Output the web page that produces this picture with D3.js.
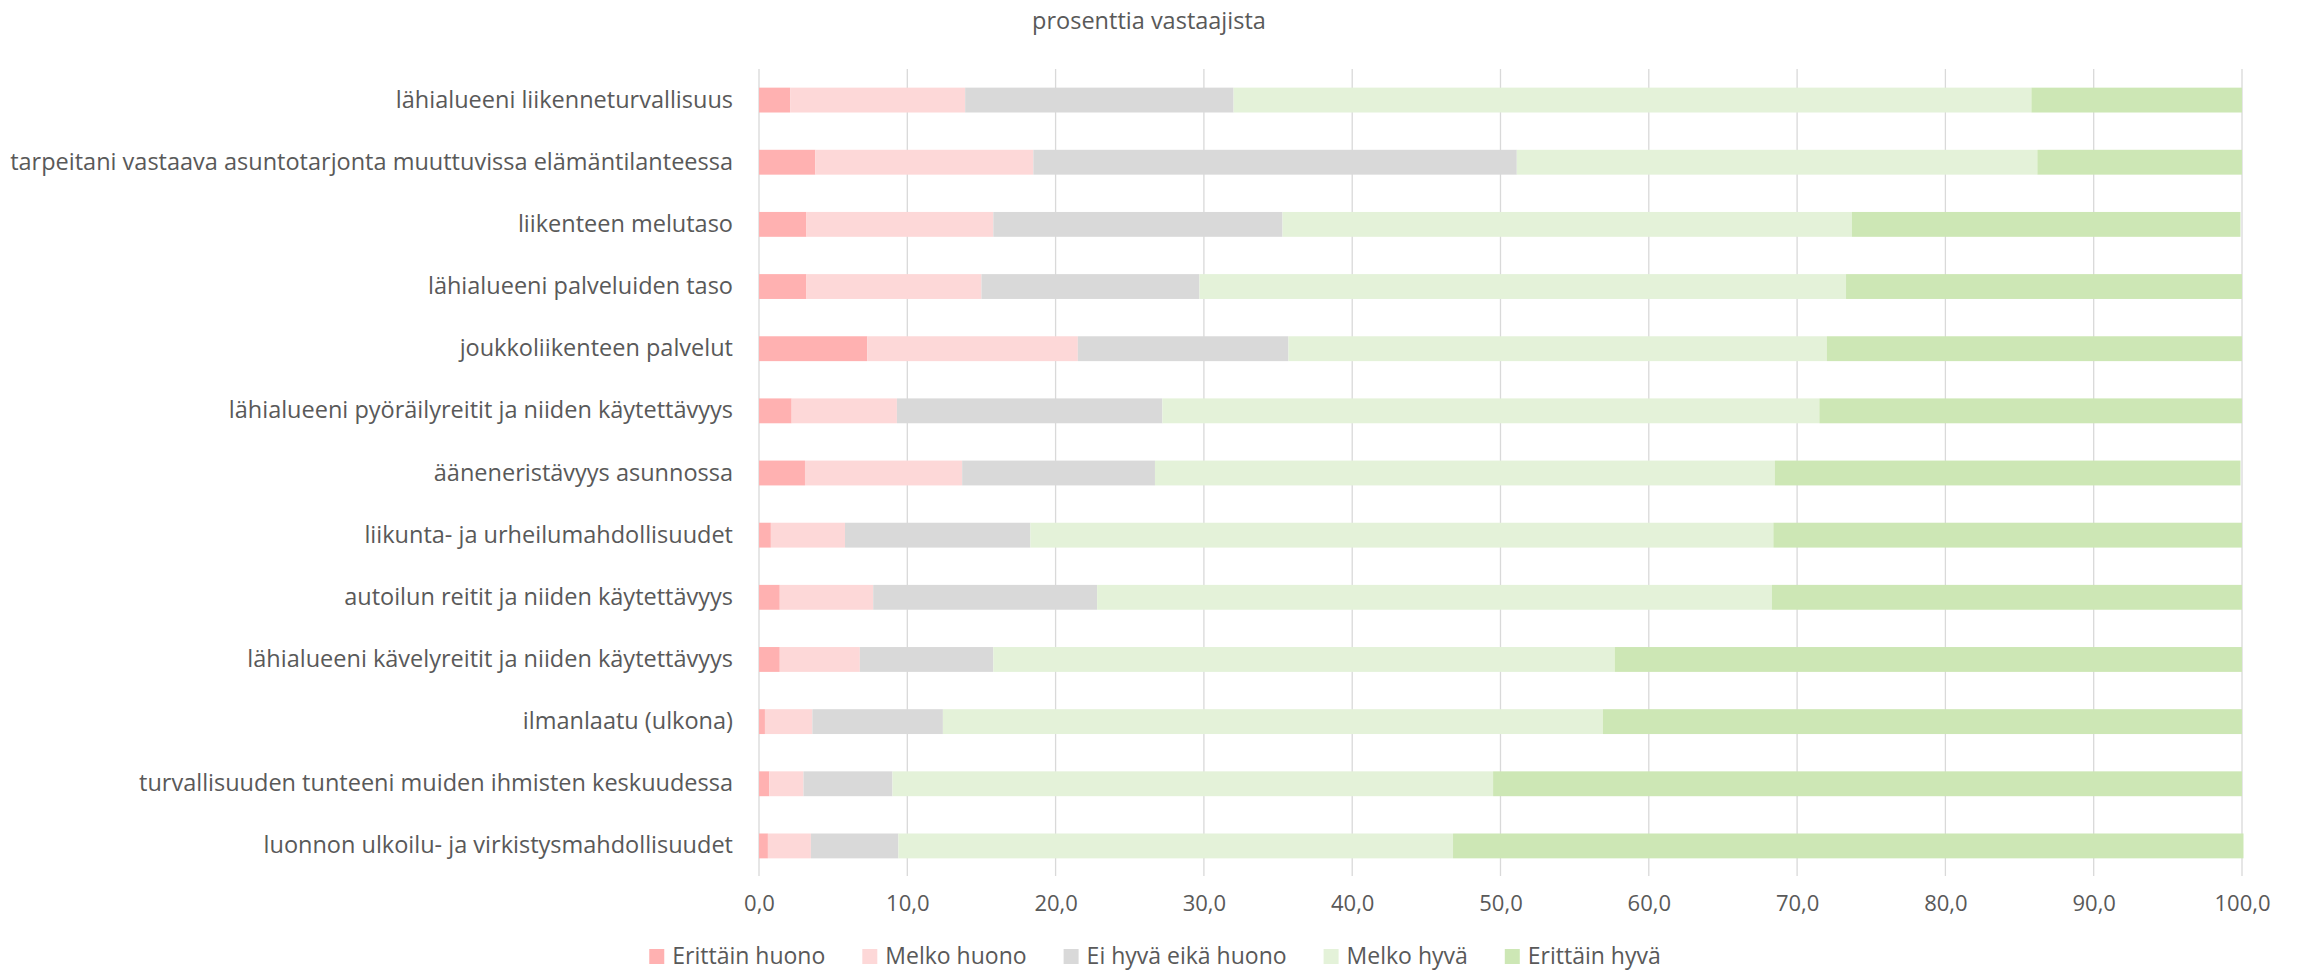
<!DOCTYPE html>
<html>
<head>
<meta charset="utf-8">
<script src="https://cdn.jsdelivr.net/npm/d3@7"></script>
<style>
  body { margin: 0; background: #fff; }
  svg text { font-family: "Open Sans", "Noto Sans", sans-serif; fill: #595959; }
</style>
</head>
<body>
<svg class="chart"></svg>
<script>
const width = 2298,
      height = 975

const categories = [
  "lähialueeni liikenneturvallisuus",
  "tarpeitani vastaava asuntotarjonta muuttuvissa elämäntilanteessa",
  "liikenteen melutaso",
  "lähialueeni palveluiden taso",
  "joukkoliikenteen palvelut",
  "lähialueeni pyöräilyreitit ja niiden käytettävyys",
  "ääneneristävyys asunnossa ",
  "liikunta- ja urheilumahdollisuudet",
  "autoilun reitit ja niiden käytettävyys",
  "lähialueeni kävelyreitit ja niiden käytettävyys",
  "ilmanlaatu (ulkona)",
  "turvallisuuden tunteeni muiden ihmisten keskuudessa",
  "luonnon ulkoilu- ja virkistysmahdollisuudet"
]

const seriesNames = ["Erittäin huono", "Melko huono", "Ei hyvä eikä huono", "Melko hyvä", "Erittäin hyvä"]
const seriesColors = ["#ffb1b1", "#fdd8d8", "#d9d9d9", "#e4f2d9", "#cde7b5"]

const erittainHuono = [2.1, 3.8, 3.2, 3.2, 7.3, 2.2, 3.1, 0.8, 1.4, 1.4, 0.4, 0.7, 0.6]
const melkoHuono    = [11.8, 14.7, 12.6, 11.8, 14.2, 7.1, 10.6, 5.0, 6.3, 5.4, 3.2, 2.3, 2.9]
const eiHyvaEika    = [18.1, 32.6, 19.5, 14.7, 14.2, 17.9, 13.0, 12.5, 15.1, 9.0, 8.8, 6.0, 5.9]
const melkoHyva     = [53.8, 35.1, 38.4, 43.6, 36.3, 44.3, 41.8, 50.1, 45.5, 41.9, 44.5, 40.5, 37.4]
const erittainHyva  = [14.2, 13.8, 26.2, 26.7, 28.0, 28.5, 31.4, 31.6, 31.7, 42.3, 43.1, 50.5, 53.3]

const xTicks = [0, 10, 20, 30, 40, 50, 60, 70, 80, 90, 100]

const rows = categories.map((c, i) => ({
  cat: c,
  "Erittäin huono": erittainHuono[i],
  "Melko huono": melkoHuono[i],
  "Ei hyvä eikä huono": eiHyvaEika[i],
  "Melko hyvä": melkoHyva[i],
  "Erittäin hyvä": erittainHyva[i]
}))

const stacked = d3.stack().keys(seriesNames)(rows)

const chart = d3.select(".chart")
    .attr("width", width)
    .attr("height", height)

const x = d3.scaleLinear().domain([0, 100]).range([759, 2242])
const y = d3.scaleBand().domain(categories).range([69, 877])
    .paddingInner(0.6)
    .paddingOuter(0.3)

// title
chart.append("text")
    .attr("x", width / 2)
    .attr("y", 21)
    .attr("dy", "0.35em")
    .attr("text-anchor", "middle")
    .style("font-size", "23.5px")
    .text("prosenttia vastaajista")

// gridlines
chart.append("g")
    .selectAll("line")
    .data(xTicks)
    .enter()
    .append("line")
      .attr("x1", d => x(d))
      .attr("x2", d => x(d))
      .attr("y1", 69)
      .attr("y2", 876)
      .style("stroke", "#d9d9d9")
      .style("stroke-width", 1.3)

// bars
chart.append("g")
  .selectAll("g")
  .data(stacked)
  .enter()
  .append("g")
    .style("fill", (d, i) => seriesColors[i])
  .selectAll("rect")
  .data(d => d)
  .enter()
  .append("rect")
    .attr("x", d => x(d[0]))
    .attr("y", d => y(d.data.cat))
    .attr("width", d => x(d[1]) - x(d[0]))
    .attr("height", y.bandwidth())

// x axis labels
const xAxis = chart.append("g")
    .attr("transform", "translate(0,903)")
    .call(d3.axisBottom(x).tickValues(xTicks).tickSize(0).tickPadding(0)
      .tickFormat(d => d3.format(".1f")(d).replace(".", ",")))
xAxis.select(".domain").remove()
xAxis.selectAll("text")
    .attr("y", 0)
    .attr("dy", "0.35em")
    .style("font-size", "22px")
    .style("fill", "#595959")

// y axis labels
const yAxis = chart.append("g")
    .attr("transform", "translate(733,0)")
    .call(d3.axisLeft(y).tickSize(0).tickPadding(0))
yAxis.select(".domain").remove()
yAxis.selectAll("text")
    .style("font-size", "23.5px")
    .style("fill", "#595959")

// legend
const legend = chart.append("g").attr("class", "legend")
let lx = 0
seriesNames.forEach((name, i) => {
  const item = legend.append("g").attr("transform", `translate(${lx},0)`)
  item.append("rect")
      .attr("x", 0)
      .attr("y", -7)
      .attr("width", 15)
      .attr("height", 15)
      .style("fill", seriesColors[i])
  const t = item.append("text")
      .attr("x", 23)
      .attr("dy", "0.35em")
      .style("font-size", "23px")
      .text(name)
  lx += 23 + t.node().getComputedTextLength() + 37
})
const legendWidth = lx - 37
legend.attr("transform", `translate(${(width - legendWidth) / 2 + 6},956)`)
</script>
</body>
</html>
